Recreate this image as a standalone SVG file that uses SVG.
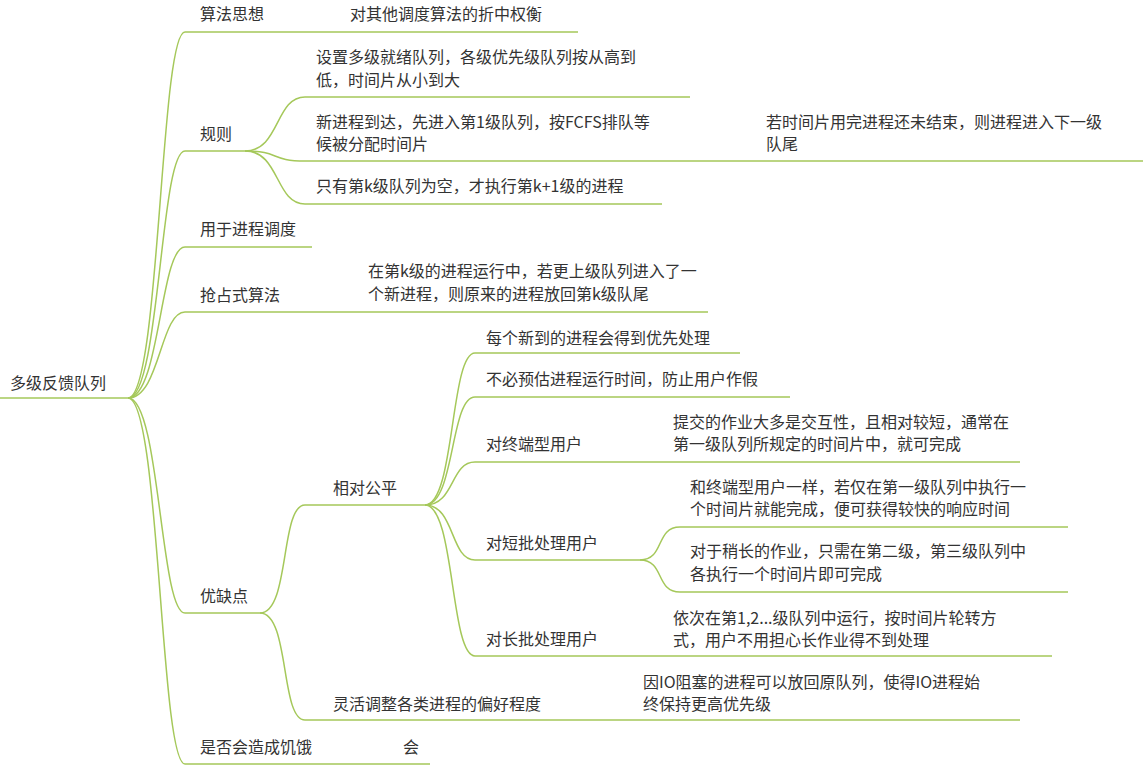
<svg xmlns="http://www.w3.org/2000/svg" width="1145" height="771" viewBox="0 0 1145 771">
<style>
text{font-family:"Noto Sans CJK SC","Liberation Sans",sans-serif;font-size:16px;fill:#333}
.l{fill:none;stroke:#a5c85a;stroke-width:1.5}
</style>
<rect width="1145" height="771" fill="#fff"/>
<g id="connectors" class="l">
<path d="M0 398H128"/>
<path d="M128 398C160 398 160 32 185 32H578"/>
<path d="M128 398C160 398 160 151 185 151H245"/>
<path d="M128 398C160 398 160 247 185 247H312"/>
<path d="M128 398C160 398 160 312 185 312H708"/>
<path d="M128 398C160 398 160 613 185 613H260"/>
<path d="M128 398C160 398 160 764 185 764H430"/>
<path d="M245 151C280 151 275 97 305 97H690"/>
<path d="M245 151C280 151 270 161 305 161H1143"/>
<path d="M245 151C280 151 275 204 305 204H662"/>
<path d="M260 613C290 613 280 505 305 505H425"/>
<path d="M260 613C290 613 280 720 305 720H1020"/>
<path d="M425 505C455 505 450 353 475 353H740"/>
<path d="M425 505C455 505 450 397 475 397H790"/>
<path d="M425 505C455 505 450 462 475 462H1020"/>
<path d="M425 505C455 505 450 560 475 560H640"/>
<path d="M425 505C455 505 450 656 475 656H1052"/>
<path d="M640 560C665 560 655 527 680 527H1068"/>
<path d="M640 560C665 560 655 592 680 592H1068"/>
</g>
<g id="root"><text x="10" y="389">多级反馈队列</text></g>
<g id="n1"><text x="200" y="20">算法思想</text></g>
<g id="n1a"><text x="350" y="20">对其他调度算法的折中权衡</text></g>
<g id="n2"><text x="200" y="140">规则</text></g>
<g id="n2a"><text x="316" y="63">设置多级就绪队列，各级优先级队列按从高到</text><text x="316" y="86">低，时间片从小到大</text></g>
<g id="n2b"><text x="316" y="128">新进程到达，先进入第1级队列，按FCFS排队等</text><text x="316" y="150">候被分配时间片</text></g>
<g id="n2b1"><text x="766" y="128">若时间片用完进程还未结束，则进程进入下一级</text><text x="766" y="150">队尾</text></g>
<g id="n2c"><text x="316" y="192">只有第k级队列为空，才执行第k+1级的进程</text></g>
<g id="n3"><text x="200" y="235">用于进程调度</text></g>
<g id="n4"><text x="200" y="301">抢占式算法</text></g>
<g id="n4a"><text x="368" y="277">在第k级的进程运行中，若更上级队列进入了一</text><text x="368" y="300">个新进程，则原来的进程放回第k级队尾</text></g>
<g id="n5"><text x="200" y="602">优缺点</text></g>
<g id="n5a"><text x="333" y="494">相对公平</text></g>
<g id="n5a1"><text x="486" y="344">每个新到的进程会得到优先处理</text></g>
<g id="n5a2"><text x="486" y="385">不必预估进程运行时间，防止用户作假</text></g>
<g id="n5a3"><text x="486" y="450">对终端型用户</text></g>
<g id="n5a3a"><text x="673" y="428">提交的作业大多是交互性，且相对较短，通常在</text><text x="673" y="450">第一级队列所规定的时间片中，就可完成</text></g>
<g id="n5a4"><text x="486" y="549">对短批处理用户</text></g>
<g id="n5a4a"><text x="690" y="493">和终端型用户一样，若仅在第一级队列中执行一</text><text x="690" y="515">个时间片就能完成，便可获得较快的响应时间</text></g>
<g id="n5a4b"><text x="690" y="557">对于稍长的作业，只需在第二级，第三级队列中</text><text x="690" y="580">各执行一个时间片即可完成</text></g>
<g id="n5a5"><text x="486" y="645">对长批处理用户</text></g>
<g id="n5a5a"><text x="673" y="624">依次在第1,2...级队列中运行，按时间片轮转方</text><text x="673" y="646">式，用户不用担心长作业得不到处理</text></g>
<g id="n5b"><text x="333" y="710">灵活调整各类进程的偏好程度</text></g>
<g id="n5b1"><text x="643" y="688">因IO阻塞的进程可以放回原队列，使得IO进程始</text><text x="643" y="710">终保持更高优先级</text></g>
<g id="n6"><text x="200" y="753">是否会造成饥饿</text></g>
<g id="n6a"><text x="403" y="753">会</text></g>
</svg>
